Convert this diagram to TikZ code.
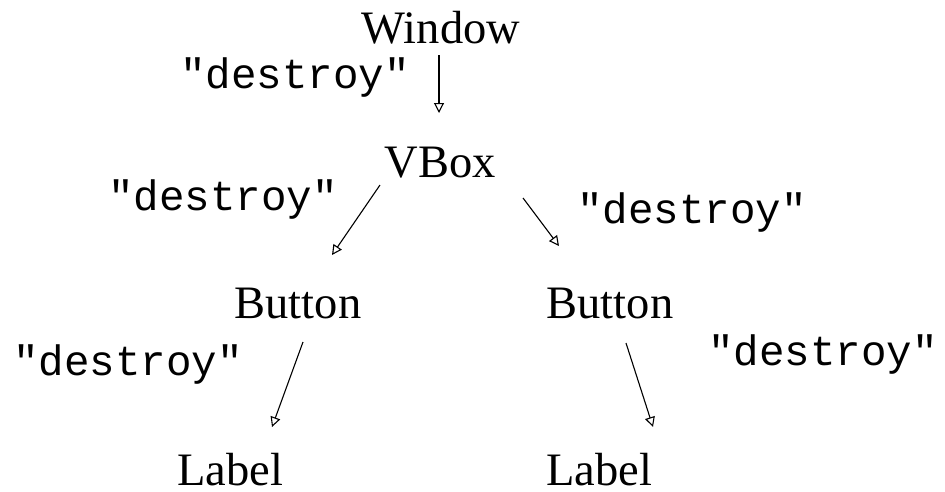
\documentclass[tikz,border=0pt]{standalone}
\usepackage{fontspec}
\setmainfont{Liberation Serif}
\setmonofont{Liberation Mono}
\usetikzlibrary{arrows.meta}
\begin{document}
\begin{tikzpicture}[x=1pt,y=-1pt,
  wname/.style={anchor=base,inner sep=0pt,font=\fontsize{46.5}{50}\selectfont},
  sig/.style={anchor=base,inner sep=0pt,font=\ttfamily\fontsize{42.5}{48}\selectfont},
  arr/.style={line width=1.1pt,-{Triangle[open,length=10pt,width=10pt]}}]
\useasboundingbox (0,0) rectangle (945,491);
\node[wname] (win) at (441,43) {Window};
\node[wname] (vbox) at (440,177) {VBox};
\node[wname] (bl) at (298,318) {Button};
\node[wname] (br) at (610,318) {Button};
\node[wname] (ll) at (230,485) {Label};
\node[wname] (lr) at (599,485) {Label};
\node[sig] (s1) at (295,88) {"destroy"};
\node[sig] (s2) at (223,210) {"destroy"};
\node[sig] (s3) at (692,223) {"destroy"};
\node[sig] (s4) at (128,375) {"destroy"};
\node[sig] (s5) at (823,365) {"destroy"};
\draw[arr] ([shift={(-2,12)}]win.base) -- ([shift={(-1,-64)}]vbox.base);
\draw[arr] ([shift={(-60,8)}]vbox.base) -- ([shift={(34,-63)}]bl.base);
\draw[arr] ([shift={(83,21)}]vbox.base) -- ([shift={(-51,-72)}]br.base);
\draw[arr] ([shift={(5,24)}]bl.base) -- ([shift={(42,-58)}]ll.base);
\draw[arr] ([shift={(16,25)}]br.base) -- ([shift={(54,-58)}]lr.base);
\end{tikzpicture}
\end{document}
